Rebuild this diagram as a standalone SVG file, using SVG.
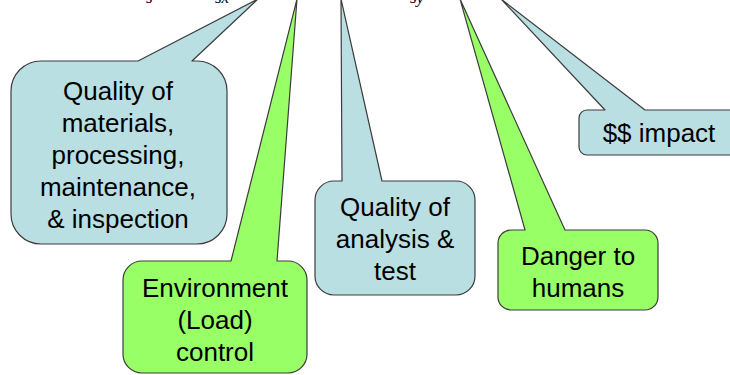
<svg xmlns="http://www.w3.org/2000/svg" width="730" height="375" viewBox="0 0 730 375">
  <style>
    .blue { fill: #badfe2; stroke: #3c3c3c; stroke-width: 1.2; stroke-linejoin: round; }
    .green { fill: #99ff66; stroke: #3c3c3c; stroke-width: 1.2; stroke-linejoin: round; }
    .lbl { font-family: "Liberation Sans", Arial, sans-serif; font-size: 26px; fill: #000; text-anchor: middle; }
    .sub { font-family: "Liberation Serif", "Times New Roman", serif; font-style: italic; font-size: 17px; fill: #000; }
  </style>
  <rect width="730" height="375" fill="#ffffff"/>

  <!-- subscripts of the formula above the callouts -->
  <g id="formula">
    <text class="sub" x="146" y="3">s</text>
    <text class="sub" x="215" y="3">sx</text>
    <text class="sub" x="410" y="3">sy</text>
  </g>

  <g id="connectors"></g>

  <g id="materials">
    <path class="blue" d="M41,61 L138,61 L258,-1 L192,61 L197,61 A30,30 0 0 1 227,91 L227,214 A30,30 0 0 1 197,244 L41,244 A30,30 0 0 1 11,214 L11,91 A30,30 0 0 1 41,61 Z"/>
    <text class="lbl" x="118" y="100">Quality of</text>
    <text class="lbl" x="118" y="132">materials,</text>
    <text class="lbl" x="118" y="164">processing,</text>
    <text class="lbl" x="118" y="196">maintenance,</text>
    <text class="lbl" x="118" y="228">&amp; inspection</text>
  </g>

  <g id="environment">
    <path class="green" d="M142,261 L231,261 L297,-1 L277,261 L288,261 A19,19 0 0 1 307,280 L307,354 A19,19 0 0 1 288,373 L142,373 A19,19 0 0 1 123,354 L123,280 A19,19 0 0 1 142,261 Z"/>
    <text class="lbl" x="215" y="297">Environment</text>
    <text class="lbl" x="215" y="329">(Load)</text>
    <text class="lbl" x="215" y="361">control</text>
  </g>

  <g id="analysis">
    <path class="blue" d="M334,181 L342,181 L341,-1 L382,181 L456,181 A19,19 0 0 1 475,200 L475,276 A19,19 0 0 1 456,295 L334,295 A19,19 0 0 1 315,276 L315,200 A19,19 0 0 1 334,181 Z"/>
    <text class="lbl" x="395" y="216">Quality of</text>
    <text class="lbl" x="395" y="248">analysis &amp;</text>
    <text class="lbl" x="395" y="280">test</text>
  </g>

  <g id="danger">
    <path class="green" d="M511,230 L525,230 L460,-1 L565,230 L645,230 A13,13 0 0 1 658,243 L658,297 A13,13 0 0 1 645,310 L511,310 A13,13 0 0 1 498,297 L498,243 A13,13 0 0 1 511,230 Z"/>
    <text class="lbl" x="578" y="265">Danger to</text>
    <text class="lbl" x="578" y="297">humans</text>
  </g>

  <g id="impact">
    <path class="blue" d="M587,110 L605,110 L501,-1 L645,110 L736,110 A8,8 0 0 1 744,118 L744,147 A8,8 0 0 1 736,155 L587,155 A8,8 0 0 1 579,147 L579,118 A8,8 0 0 1 587,110 Z"/>
    <text class="lbl" x="659" y="142">$$ impact</text>
  </g>
</svg>
